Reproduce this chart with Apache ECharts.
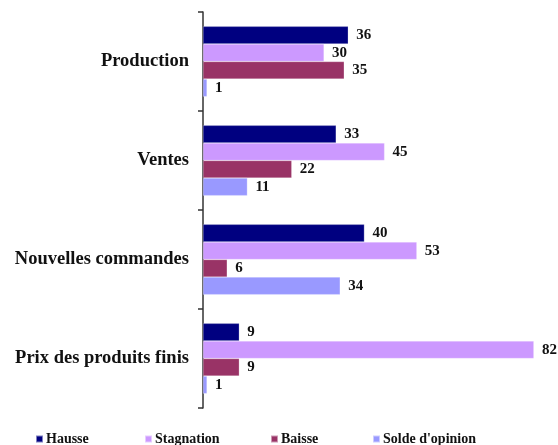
<!DOCTYPE html>
<html>
<head>
<meta charset="utf-8">
<script src="https://cdn.jsdelivr.net/npm/echarts@6/dist/echarts.min.js"></script>
<style>
  html, body { margin: 0; padding: 0; background: #fff; }
  #main { width: 558px; height: 445px; }
</style>
</head>
<body>
<div id="main"></div>
<script>
// categories, top to bottom
var categories = ["Production", "Ventes", "Nouvelles commandes", "Prix des produits finis"];
var seriesNames = ["Hausse", "Stagnation", "Baisse", "Solde d'opinion"];
var hausse = [36, 33, 40, 9];
var stagnation = [30, 45, 53, 82];
var baisse = [35, 22, 6, 9];
var solde = [1, 11, 34, 1];
var colors = ["#000080", "#cc99ff", "#993366", "#9999ff"];

var serif = "Liberation Serif";
var allData = [hausse, stagnation, baisse, solde];

var myChart = echarts.init(document.getElementById("main"));

var series = seriesNames.map(function (name, i) {
  return {
    name: name,
    type: "bar",
    data: allData[i],
    barGap: "0%",
    barCategoryGap: "29%",
    itemStyle: { color: colors[i], borderColor: "rgba(255,255,255,0.5)", borderWidth: 0.5 },
    label: {
      show: true,
      position: "right",
      distance: 8,
      color: "#111",
      fontFamily: serif,
      fontWeight: "bold",
      fontSize: 15
    }
  };
});

// one legend per item so each can sit where the reference has it
var legendLefts = [30, 139, 265, 367];
var legends = seriesNames.map(function (name, i) {
  return {
    data: [name],
    left: legendLefts[i],
    top: 427,
    itemWidth: 7,
    itemHeight: 7,
    itemGap: 0,
    icon: "rect",
    textStyle: { fontFamily: serif, fontWeight: "bold", fontSize: 14, color: "#111", padding: [0, 0, 0, -2] }
  };
});

var option = {
  animation: false,
  color: colors,
  legend: legends,
  grid: { left: 203, right: 12, top: 12, bottom: 37, containLabel: false },
  xAxis: {
    type: "value",
    min: 0,
    max: 85,
    show: false,
    splitLine: { show: false }
  },
  yAxis: {
    type: "category",
    data: categories,
    inverse: true,
    axisLine: { show: true, lineStyle: { color: "#333", width: 1.5 } },
    axisTick: { show: true, length: 5, lineStyle: { color: "#333", width: 1.5 } },
    axisLabel: {
      margin: 14,
      color: "#111",
      fontFamily: serif,
      fontWeight: "bold",
      fontSize: 18.5
    }
  },
  series: series
};

myChart.setOption(option);
</script>
</body>
</html>
